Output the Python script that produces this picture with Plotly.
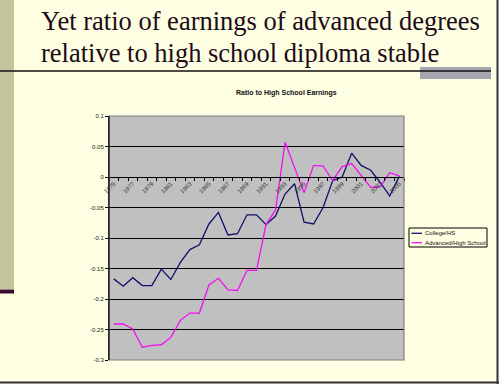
import plotly.graph_objects as go

# ---------------- data ----------------
years = list(range(1975, 2006))
college_hs = [-0.167, -0.179, -0.165, -0.178, -0.178, -0.151, -0.168, -0.140, -0.119, -0.111,
              -0.077, -0.058, -0.095, -0.093, -0.062, -0.062, -0.078, -0.064, -0.028, -0.011,
              -0.074, -0.077, -0.050, -0.006, 0.000, 0.039, 0.019, 0.011, -0.009, -0.031, 0.001]
advanced_hs = [-0.241, -0.241, -0.249, -0.279, -0.276, -0.275, -0.263, -0.235, -0.223, -0.223,
               -0.177, -0.166, -0.185, -0.186, -0.153, -0.153, -0.078, -0.054, 0.057, 0.016,
               -0.026, 0.019, 0.018, -0.006, 0.017, 0.022, 0.003, -0.017, -0.016, 0.007, 0.002]
series_names = ["College/HS", "Advanced/High School"]
series_colors = ["#10106a", "#f010f0"]
x_labels = [str(y) for y in years[::2]]
y_ticks = [0.1, 0.05, 0, -0.05, -0.1, -0.15, -0.2, -0.25, -0.3]
y_tick_text = ["0.1", "0.05", "0", "-0.05", "-0.1", "-0.15", "-0.2", "-0.25", "-0.3"]
slide_title = ["Yet ratio of earnings of advanced degrees",
               "relative to high school diploma stable"]
chart_title = "Ratio to High School Earnings"

# ---------------- layout helpers ----------------
W, H = 499, 384
BG = "#fefee2"
SANS = "Liberation Sans"
SERIF = "Liberation Serif"


def fx(px):
    return px / W


def fy(py):
    return 1 - py / H


PL, PR, PT, PB = 109, 404, 116, 360
y_rng = [-0.3, 0.1]
ydom = [fy(PB), fy(PT)]
zero_pos = ydom[0] + (0 - y_rng[0]) / (y_rng[1] - y_rng[0]) * (ydom[1] - ydom[0])

fig = go.Figure()
for name, vals, col in zip(series_names, [college_hs, advanced_hs], series_colors):
    fig.add_trace(go.Scatter(x=years, y=vals, mode="lines", name=name,
                             line=dict(color=col, width=1.3), showlegend=False))

fig.update_layout(
    width=W, height=H,
    margin=dict(l=0, r=0, t=0, b=0),
    paper_bgcolor=BG,
    plot_bgcolor="#c0c0c0",
    showlegend=False,
    xaxis=dict(
        domain=[fx(PL), fx(PR)],
        range=[years[0] - 0.5, years[-1] + 0.5],
        anchor="free", position=zero_pos,
        showgrid=False, zeroline=False,
        showline=True, linecolor="black", linewidth=1,
        tickmode="array", tickvals=years[::2], ticktext=x_labels,
        ticks="", tickangle=-45,
        tickfont=dict(family=SANS, size=6, color="#333333"),
        minor=dict(tickmode="array", tickvals=[y - 0.5 for y in years] + [years[-1] + 0.5],
                   ticks="outside", ticklen=3, tickcolor="black", tickwidth=1, showgrid=False),
        automargin=False, fixedrange=True,
    ),
    yaxis=dict(
        domain=ydom,
        range=y_rng,
        tickmode="array", tickvals=y_ticks, ticktext=y_tick_text,
        showgrid=True, gridcolor="black", gridwidth=1,
        zeroline=False,
        showline=True, linecolor="black", linewidth=1,
        ticks="outside", ticklen=3, tickcolor="black",
        tickfont=dict(family=SANS, size=6, color="#222222"),
        automargin=False, fixedrange=True,
    ),
)

shapes = []
# left decorative bar
shapes.append(dict(type="rect", xref="paper", yref="paper", x0=fx(0), x1=fx(14), y0=fy(289), y1=fy(0),
                   fillcolor="#c5c59d", line=dict(width=0), layer="below"))
shapes.append(dict(type="rect", xref="paper", yref="paper", x0=fx(0), x1=fx(14), y0=fy(293.5), y1=fy(289.5),
                   fillcolor="#3a0a2e", line=dict(width=0), layer="below"))
# gray block at right of title rule
shapes.append(dict(type="rect", xref="paper", yref="paper", x0=fx(420), x1=fx(491), y0=fy(79), y1=fy(67),
                   fillcolor="#a6a6ae", line=dict(width=0), layer="below"))
# title rule
shapes.append(dict(type="line", xref="paper", yref="paper", x0=fx(0), x1=fx(491), y0=fy(71), y1=fy(71),
                   line=dict(color="#111111", width=1.3)))
# plot area border (right/top/bottom gray)
shapes.append(dict(type="rect", xref="paper", yref="paper", x0=fx(PL), x1=fx(PR), y0=fy(PB), y1=fy(PT),
                   line=dict(color="#808080", width=1.2), layer="above"))
shapes.append(dict(type="line", xref="paper", yref="paper", x0=fx(PL), x1=fx(PL), y0=fy(PB), y1=fy(PT),
                   line=dict(color="black", width=1), layer="above"))
# slide frame at bottom / right
shapes.append(dict(type="line", xref="paper", yref="paper", x0=0, x1=1, y0=fy(382.5), y1=fy(382.5),
                   line=dict(color="#333333", width=2)))
shapes.append(dict(type="line", xref="paper", yref="paper", x0=fx(497.5), x1=fx(497.5), y0=0, y1=1,
                   line=dict(color="#333333", width=2)))
# manual legend box
LX0, LX1, LY0, LY1 = 409, 487, 228, 247
shapes.append(dict(type="rect", xref="paper", yref="paper", x0=fx(LX0), x1=fx(LX1), y0=fy(LY1), y1=fy(LY0),
                   fillcolor=BG, line=dict(color="black", width=1)))

annotations = []
for i, (name, col) in enumerate(zip(series_names, series_colors)):
    yy = 233.3 + i * 9.4
    shapes.append(dict(type="line", xref="paper", yref="paper", x0=fx(411.5), x1=fx(422),
                       y0=fy(yy), y1=fy(yy), line=dict(color=col, width=1.3)))
    annotations.append(dict(xref="paper", yref="paper", x=fx(423), y=fy(yy), text=name, showarrow=False,
                            xanchor="left", yanchor="middle",
                            font=dict(family=SANS, size=6, color="#111111")))

# slide title
for i, line in enumerate(slide_title):
    annotations.append(dict(xref="paper", yref="paper", x=fx(39), y=fy(21 + i * 31.5), text=line,
                            showarrow=False, xanchor="left", yanchor="middle",
                            font=dict(family=SERIF, size=26.5, color="#1c0a18")))
# chart title
annotations.append(dict(xref="paper", yref="paper", x=fx(286.5), y=fy(93.3), text="<b>" + chart_title + "</b>",
                        showarrow=False, xanchor="center", yanchor="middle",
                        font=dict(family=SANS, size=7, color="#111111")))

fig.update_layout(shapes=shapes, annotations=annotations)
fig.write_html("out.html",
               config={"displayModeBar": False},
               post_script="document.body.style.margin='0';document.body.style.padding='0';"
                           "document.body.style.overflow='hidden';")
